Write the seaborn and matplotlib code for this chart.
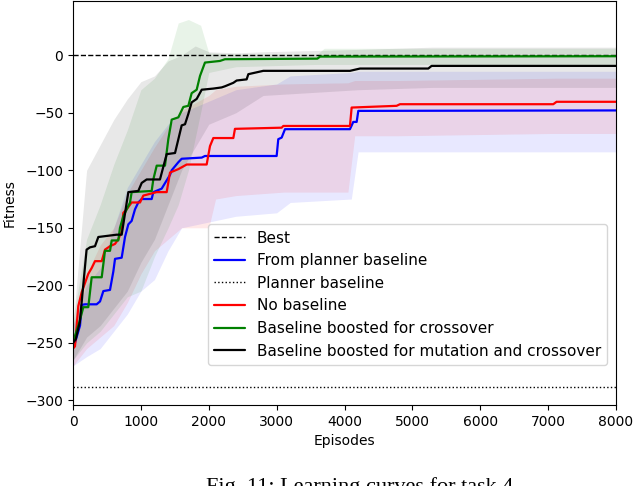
import matplotlib
matplotlib.use('Agg')
import matplotlib.pyplot as plt
import seaborn as sns
import pandas as pd

# Mean learning curves (episode, fitness)
blue_x = [0, 29, 103, 128, 177, 348, 398, 447, 545, 594, 619, 717, 766, 815, 864, 913, 962, 1012, 1159,
          1183, 1306, 1429, 1454, 1552, 1601, 1896, 1944, 3000, 3024, 3074, 3123, 4080, 4129, 4179, 4203, 8000]
blue_y = [-252, -250, -235, -217, -216.5, -216.5, -214, -205, -204, -188, -177, -176, -158, -147, -144, -134, -128, -125, -125,
          -119, -116, -104, -100, -93, -90, -89, -87.6, -87.6, -73, -71.6, -64.3, -64.3, -58, -58, -48.4, -48]

red_x = [0, 29, 78, 128, 225, 275, 324, 423, 471, 545, 619, 667, 717, 741, 790, 864, 987, 1036, 1233, 1380,
         1429, 1552, 1675, 1969, 2018, 2067, 2362, 2386, 3074, 3098, 4080, 4105, 4767, 4817, 7075, 7124, 8000]
red_y = [-255, -253, -218, -206, -190, -185, -179, -179, -169, -166, -164, -160, -153, -137, -134, -128, -128, -122, -119, -119,
         -102, -99, -95, -95, -79, -72, -72, -64, -63, -61.5, -61.5, -45.5, -44, -42.6, -42.6, -40.5, -40.5]

green_x = [0, 29, 78, 103, 152, 225, 275, 423, 471, 545, 570, 667, 692, 741, 840, 864, 1159, 1183, 1233, 1355,
           1404, 1454, 1552, 1625, 1699, 1748, 1822, 1871, 1944, 2165, 2239, 3600, 3640, 8000]
green_y = [-248, -244, -235, -230, -219, -219, -193, -193, -170, -170, -161, -161, -150, -140, -128, -119, -118, -108, -96, -96,
           -73, -56, -54, -45, -44, -33, -30, -18, -6.4, -5, -3.5, -3, -1.2, -0.9]

black_x = [0, 40, 100, 200, 250, 324, 373, 643, 717, 741, 815, 962, 1012, 1085, 1281, 1380, 1503, 1552, 1601, 1650,
           1699, 1748, 1822, 1896, 2067, 2190, 2239, 2362, 2411, 2558, 2583, 2803, 4080, 4228, 5234, 5283, 8000]
black_y = [-250, -247, -232, -169, -167, -166, -158, -156, -156, -147, -119, -118, -111, -108, -108, -86, -85, -73, -61, -60,
           -51, -41, -38, -30, -29, -28, -27, -24, -22, -21, -16.5, -13.6, -13.6, -11.6, -11.6, -9.3, -9.3]

# Spread bands (lower / upper)
red_band_x = [0, 200, 400, 600, 800, 1000, 1200, 1400, 1600, 2000, 2100, 2400, 3100, 4050, 4150, 4800, 7100, 8000]
red_lo = [-270, -255, -245, -235, -215, -190, -170, -160, -150, -150, -125, -122, -119, -119, -70, -70, -68, -68]
red_hi = [-235, -190, -165, -150, -120, -100, -80, -62, -48, -35, -30, -27, -25, -24, -22, -22, -20, -20]

blue_band_x = [0, 200, 400, 600, 800, 1000, 1200, 1400, 1600, 2000, 2400, 3000, 3200, 4100, 4200, 8000]
blue_lo = [-270, -262, -255, -240, -225, -205, -195, -170, -150, -145, -140, -137, -128, -125, -84, -84]
blue_hi = [-235, -200, -185, -150, -115, -95, -75, -60, -50, -40, -30, -25, -18, -15, -14, -14]

green_band_x = [0, 200, 400, 600, 800, 1000, 1200, 1400, 1550, 1700, 1880, 2000, 2400, 3600, 3700, 8000]
green_lo = [-265, -250, -240, -225, -210, -205, -175, -150, -130, -100, -50, -15, -10, -8, -8, -8]
green_hi = [-230, -160, -130, -95, -65, -30, -20, -3, 28, 31, 26, 2, 1, 1, 6, 6]

black_band_x = [0, 200, 400, 600, 800, 1000, 1200, 1400, 1600, 1800, 2000, 2400, 2800, 4200, 5300, 8000]
black_lo = [-265, -245, -235, -220, -205, -180, -160, -130, -100, -80, -60, -50, -35, -30, -28, -28]
black_hi = [-235, -100, -78, -56, -38, -23, -18, -5, 0, 8, 3, 2, 3, 5, 7, 7]

best_value = 0
planner_value = -288

labels = ['From planner baseline', 'No baseline', 'Baseline boosted for crossover',
          'Baseline boosted for mutation and crossover']
colors = ['blue', 'red', 'green', 'black']

sns.set_style('ticks')
plt.rcParams['axes.edgecolor'] = 'black'
plt.rcParams['text.color'] = 'black'
plt.rcParams['axes.labelcolor'] = 'black'
plt.rcParams['xtick.color'] = 'black'
plt.rcParams['ytick.color'] = 'black'
plt.rcParams['font.family'] = ['DejaVu Sans']

fig = plt.figure(figsize=(6.36, 4.86), dpi=100)
ax = fig.add_axes([0.1148, 0.1667, 0.8538, 0.831])

bands = [(blue_band_x, blue_lo, blue_hi), (red_band_x, red_lo, red_hi),
         (green_band_x, green_lo, green_hi), (black_band_x, black_lo, black_hi)]
for (bx, lo, hi), c in zip(bands, colors):
    ax.fill_between(bx, lo, hi, color=c, alpha=0.09, linewidth=0)

curves = [(blue_x, blue_y), (red_x, red_y), (green_x, green_y), (black_x, black_y)]
frames = []
for (cx, cy), lab in zip(curves, labels):
    frames.append(pd.DataFrame({'Episodes': cx, 'Fitness': cy, 'run': lab}))
df = pd.concat(frames, ignore_index=True)

ax.axhline(best_value, color='black', linestyle='--', linewidth=1, label='Best')
for lab, c in zip(labels, colors):
    sub = df[df['run'] == lab]
    sns.lineplot(data=sub, x='Episodes', y='Fitness', color=c, linewidth=1.6,
                 estimator=None, sort=False, ax=ax, label=lab)
    if lab == 'From planner baseline':
        ax.axhline(planner_value, color='black', linestyle=':', linewidth=1, label='Planner baseline')

ax.set_xlim(0, 8000)
ax.set_ylim(-304, 47)
ax.set_xlabel('Episodes', fontsize=10)
ax.set_ylabel('Fitness', fontsize=10, labelpad=6)
ax.tick_params(labelsize=10)

handles, labs = ax.get_legend_handles_labels()
order = ['Best', 'From planner baseline', 'Planner baseline', 'No baseline',
         'Baseline boosted for crossover', 'Baseline boosted for mutation and crossover']
hmap = dict(zip(labs, handles))
ax.legend([hmap[o] for o in order], order, loc='lower right', bbox_to_anchor=(0.992, 0.088),
          fontsize=11, frameon=True, borderaxespad=0.3)

fig.text(0.566, 0.019, 'Fig. 11: Learning curves for task 4', ha='center', va='top',
         fontsize=16, family='Liberation Serif')

fig.savefig('out.png', dpi=100)
